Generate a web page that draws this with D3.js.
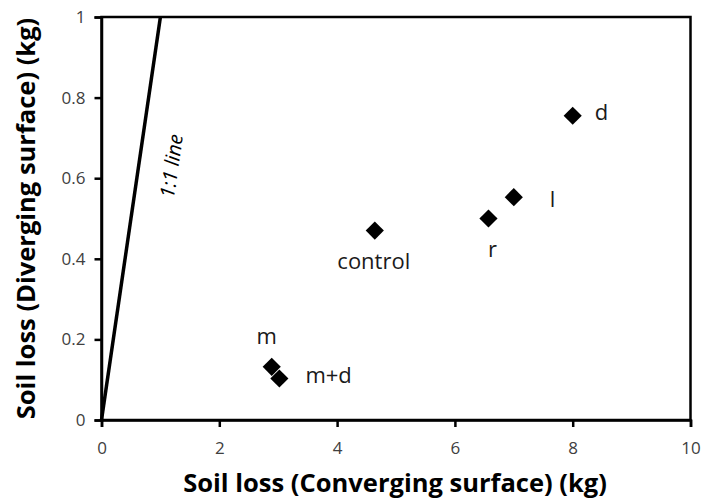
<!DOCTYPE html>
<html><head><meta charset="utf-8">
<script src="https://cdn.jsdelivr.net/npm/d3@7"></script>
<style>body{margin:0;background:#fff;} text{font-family:"Open Sans",sans-serif;}</style>
</head><body><svg id="c" width="704" height="504"></svg>
<script>
const labels = ["d","l","r","control","m","m+d"];
const converging = [8.0, 7.0, 6.57, 4.64, 2.89, 3.02];
const diverging = [0.755, 0.553, 0.50, 0.47, 0.132, 0.103];
const xTicks = [0,2,4,6,8,10];
const yTicks = [0,0.2,0.4,0.6,0.8,1];
const oneToOne = [[0,0],[1,1]];

const svg = d3.select("#c");
const L=101.5, R=690.5, T=17, B=420;
const x = d3.scaleLinear().domain([0,10]).range([L,R]);
const y = d3.scaleLinear().domain([0,1]).range([B,T]);

svg.append("rect").attr("x",L).attr("y",T).attr("width",R-L).attr("height",B-T)
  .attr("fill","none").attr("stroke","#000").attr("stroke-width",2.5);

const xa = svg.append("g").attr("transform",`translate(0,${B})`)
  .call(d3.axisBottom(x).tickValues(xTicks).tickFormat(d3.format("d")).tickSize(7).tickPadding(15));
const ya = svg.append("g").attr("transform",`translate(${L},0)`)
  .call(d3.axisLeft(y).tickValues(yTicks).tickFormat(d=>d===0?"0":d===1?"1":d3.format(".1f")(d)).tickSize(7).tickPadding(9));
[xa,ya].forEach(a=>{
  a.select(".domain").attr("stroke","#000").attr("stroke-width",2.5);
  a.selectAll(".tick line").attr("stroke","#000").attr("stroke-width",2.5);
  a.selectAll(".tick text").attr("font-size",17).attr("fill","#404040").style("font-family","'Open Sans',sans-serif");
});

// 1:1 line
svg.append("path").datum(oneToOne)
  .attr("d",d3.line().x(d=>x(d[0])).y(d=>y(d[1])))
  .attr("stroke","#000").attr("stroke-width",3.5).attr("fill","none");
const ang = Math.atan2(y(1)-y(0), x(1)-x(0))*180/Math.PI;
svg.append("text").attr("transform",`translate(171,166) rotate(${ang})`)
  .attr("text-anchor","middle").attr("dominant-baseline","central")
  .attr("font-size",20).attr("font-style","italic").attr("fill","#000").text("1:1 line");

// points
const sym = d3.symbol().type(d3.symbolSquare).size(165);
svg.selectAll(".pt").data(labels).enter().append("path")
  .attr("transform",(d,i)=>`translate(${x(converging[i])},${y(diverging[i])}) rotate(45)`)
  .attr("d",sym).attr("fill","#000");

const off = {"d":[22,4,"start"],"l":[36,10,"start"],"r":[4,38,"middle"],"control":[-1,38,"middle"],"m":[-5,-23,"middle"],"m+d":[26,5,"start"]};
svg.selectAll(".lb").data(labels).enter().append("text")
  .attr("x",(d,i)=>x(converging[i])+off[d][0]).attr("y",(d,i)=>y(diverging[i])+off[d][1])
  .attr("text-anchor",d=>off[d][2]).attr("font-size",22).attr("fill","#1a1a1a").text(d=>d);

// titles
const xt = svg.append("text").attr("x",(L+R)/2 - 1).attr("y",492).attr("text-anchor","middle")
  .attr("font-size",24).attr("font-weight","bold").attr("fill","#000").text("Soil loss (Converging surface) (kg)");
const w = xt.node().getComputedTextLength();
const fs = 24*424/w;
xt.attr("font-size",fs);
svg.append("text").attr("transform",`translate(35,${(T+B)/2}) rotate(-90)`).attr("text-anchor","middle")
  .attr("font-size",fs).attr("font-weight","bold").attr("fill","#000").text("Soil loss (Diverging surface) (kg)");
</script></body></html>
